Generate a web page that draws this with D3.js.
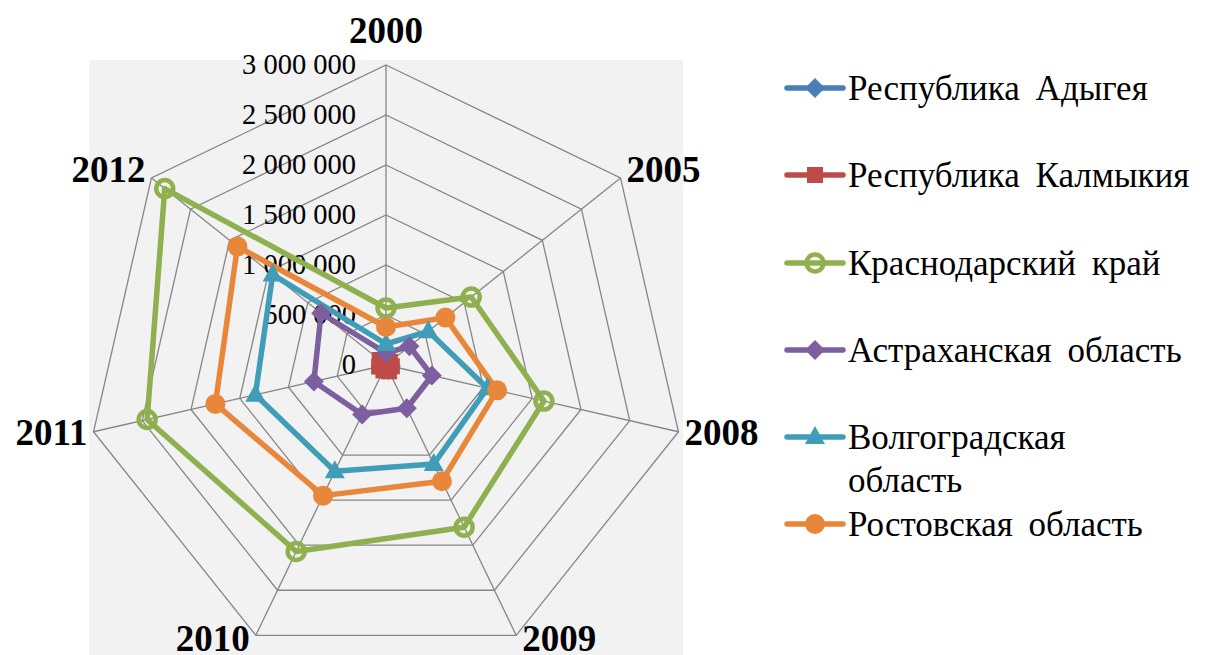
<!DOCTYPE html>
<html>
<head>
<meta charset="utf-8">
<script src="https://cdn.jsdelivr.net/npm/d3@7"></script>
<style>
  body { margin: 0; background: #fff; }
</style>
</head>
<body>
<div id="chart"></div>
<script>
// categories (years) and tick values
const years = ["2000", "2005", "2008", "2009", "2010", "2011", "2012"];
const ticks = [0, 500000, 1000000, 1500000, 2000000, 2500000, 3000000];

// series values
const adygea     = [45000, 40000, 50000, 55000, 50000, 55000, 60000];
const kalmykia   = [60000, 50000, 60000, 70000, 60000, 70000, 80000];
const krasnodar  = [570000, 1090000, 1620000, 1800000, 2070000, 2450000, 2830000];
const astrakhan  = [120000, 300000, 470000, 480000, 550000, 740000, 830000];
const volgograd  = [210000, 540000, 1040000, 1100000, 1180000, 1340000, 1450000];
const rostov     = [380000, 760000, 1140000, 1290000, 1450000, 1750000, 1900000];

const seriesNames = ["Республика Адыгея", "Республика Калмыкия", "Краснодарский край",
                     "Астраханская область", "Волгоградская область", "Ростовская область"];

const series = [
  { name: seriesNames[0], values: adygea,    color: "#4A7EBB", marker: "diamond" },
  { name: seriesNames[1], values: kalmykia,  color: "#BE4B48", marker: "square" },
  { name: seriesNames[2], values: krasnodar, color: "#8EB04E", marker: "ring" },
  { name: seriesNames[3], values: astrakhan, color: "#7D5F9F", marker: "diamond" },
  { name: seriesNames[4], values: volgograd, color: "#3F9DB8", marker: "triangle" },
  { name: seriesNames[5], values: rostov,    color: "#E8863A", marker: "circle" }
];

const width = 1206, height = 655;
const cx = 386, cy = 365, R = 300;
const font = "Liberation Serif";

const svg = d3.select("#chart")
  .append("svg")
    .attr("width", width)
    .attr("height", height);

// plot area background
svg.append("rect")
  .attr("x", 89).attr("y", 60)
  .attr("width", 594).attr("height", 595)
  .attr("fill", "#F2F2F2");

const g = svg.append("g")
  .attr("transform", `translate(${cx}, ${cy})`);

const r = d3.scaleLinear().domain([0, 3000000]).range([0, R]);
const angle = d3.scaleLinear().domain([0, years.length]).range([0, 2 * Math.PI]);

function pt(i, v) {
  const a = angle(i);
  return [r(v) * Math.sin(a), -r(v) * Math.cos(a)];
}

// grid rings
const ring = d3.line().curve(d3.curveLinearClosed);
g.selectAll(".ring")
  .data(ticks.slice(1))
  .join("path")
    .attr("fill", "none")
    .attr("stroke", "#868686")
    .attr("stroke-width", 1.3)
    .attr("d", v => ring(years.map((y, i) => pt(i, v))));

// spokes
g.selectAll(".spoke")
  .data(years)
  .join("line")
    .attr("x1", 0).attr("y1", 0)
    .attr("x2", (d, i) => pt(i, 3000000)[0])
    .attr("y2", (d, i) => pt(i, 3000000)[1])
    .attr("stroke", "#868686")
    .attr("stroke-width", 1.3);

// tick labels
g.selectAll(".tick")
  .data(ticks)
  .join("text")
    .attr("x", -30)
    .attr("y", v => -r(v))
    .attr("dy", "0.33em")
    .attr("text-anchor", "end")
    .attr("font-family", font)
    .attr("font-size", 28.5)
    .text(v => d3.format(",")(v).replace(/,/g, " "));

// category labels
g.selectAll(".cat")
  .data(years)
  .join("text")
    .attr("x", (d, i) => {
      const s = Math.sin(angle(i)), p = pt(i, 3000000);
      return Math.abs(s) < 0.1 ? p[0] : p[0] + Math.sign(s) * 6;
    })
    .attr("y", (d, i) => {
      const c = Math.cos(angle(i)), p = pt(i, 3000000);
      const off = c > 0.9 ? -35 : c > 0 ? -9 : c > -0.5 ? 0 : 3;
      return p[1] + off;
    })
    .attr("dy", "0.35em")
    .attr("text-anchor", (d, i) => {
      const s = Math.sin(angle(i));
      return Math.abs(s) < 0.1 ? "middle" : s > 0 ? "start" : "end";
    })
    .attr("font-family", font)
    .attr("font-size", 37)
    .attr("font-weight", "bold")
    .text(d => d);

// marker drawing
function drawMarker(sel, type, color) {
  if (type === "diamond") {
    sel.append("path").attr("d", "M0,-10L10,0L0,10L-10,0Z").attr("fill", color);
  } else if (type === "square") {
    sel.append("rect").attr("x", -8).attr("y", -8).attr("width", 16).attr("height", 16).attr("fill", color);
  } else if (type === "ring") {
    sel.append("circle").attr("r", 8.5).attr("fill", "none").attr("stroke", color).attr("stroke-width", 4.5);
  } else if (type === "triangle") {
    sel.append("path").attr("d", "M0,-11L10,7L-10,7Z").attr("fill", color);
  } else {
    sel.append("circle").attr("r", 10).attr("fill", color);
  }
}

// series lines
const line = d3.line().curve(d3.curveLinearClosed);
g.selectAll(".series")
  .data(series)
  .join("path")
    .attr("fill", "none")
    .attr("stroke", d => d.color)
    .attr("stroke-width", 5.5)
    .attr("stroke-linejoin", "round")
    .attr("d", d => line(d.values.map((v, i) => pt(i, v))));

// series markers
series.forEach(s => {
  s.values.forEach((v, i) => {
    const m = g.append("g").attr("transform", `translate(${pt(i, v)})`);
    drawMarker(m, s.marker, s.color);
  });
});

// legend
const legend = svg.append("g");
const legendY = [88, 175, 263, 350, 437, 524];
series.forEach((s, i) => {
  const item = legend.append("g").attr("transform", `translate(787, ${legendY[i]})`);
  item.append("line")
    .attr("x1", 0).attr("x2", 56)
    .attr("stroke", s.color).attr("stroke-width", 5.5)
    .attr("stroke-linecap", "round");
  drawMarker(item.append("g").attr("transform", "translate(28,0)"), s.marker, s.color);
  const words = s.name === "Волгоградская область" ? ["Волгоградская", "область"] : [s.name];
  const t = item.append("text")
    .attr("x", 61)
    .attr("y", 0)
    .attr("font-family", font)
    .attr("font-size", 35)
    .attr("word-spacing", 7);
  words.forEach((w, k) => {
    t.append("tspan").attr("x", 61).attr("dy", k === 0 ? "0.33em" : "1.25em").text(w);
  });
});
</script>
</body>
</html>
